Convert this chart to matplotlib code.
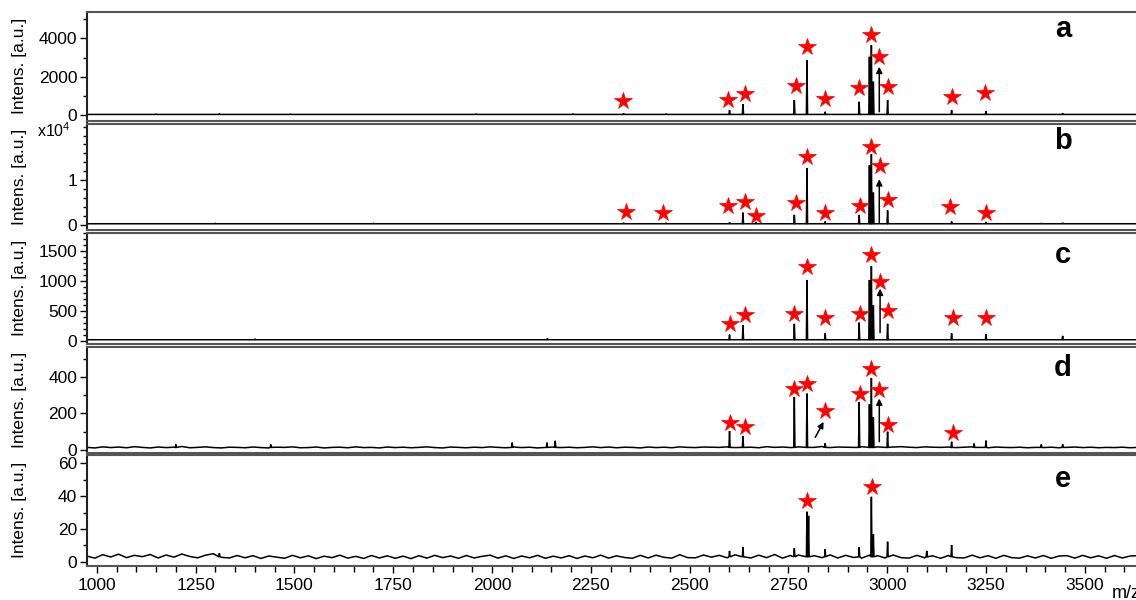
import numpy as np
import matplotlib.pyplot as plt
from matplotlib.ticker import MultipleLocator, NullLocator

plt.rcParams['font.family'] = ['Liberation Sans', 'DejaVu Sans']
plt.rcParams['mathtext.fontset'] = 'custom'
plt.rcParams['mathtext.rm'] = 'Liberation Sans'

# --- spectra: peak m/z and intensities for each sample ---
a_mz = [1150, 1310, 1490, 1960, 2205, 2333, 2440, 2601, 2635, 2765, 2797, 2843,
        2929, 2955, 2960, 2965, 3001, 3163, 3250, 3444]
a_int = [50, 60, 50, 70, 60, 80, 70, 260, 560, 780, 2870, 170,
         690, 3040, 3650, 1740, 780, 260, 210, 90]
a_stars_mz = [2332, 2598, 2639, 2769, 2798, 2843, 2929, 2959, 2980, 3003, 3164, 3248]
a_stars_y = [731, 783, 1080, 1514, 3534, 835, 1425, 4176, 3012, 1446, 955, 1164]

# panel b is in units of 1e4
b_mz = [1300, 1700, 2333, 2440, 2601, 2635, 2668, 2765, 2797, 2843,
        2929, 2955, 2960, 2965, 3001, 3163, 3250, 3390, 3444]
b_int = [0.03, 0.03, 0.04, 0.04, 0.05, 0.27, 0.06, 0.22, 1.27, 0.07,
         0.22, 1.33, 1.58, 0.72, 0.32, 0.07, 0.06, 0.03, 0.04]
b_stars_mz = [2340, 2433, 2598, 2639, 2668, 2769, 2798, 2843, 2930, 2959, 2982, 3003, 3160, 3250]
b_stars_y = [0.28, 0.26, 0.42, 0.51, 0.20, 0.49, 1.52, 0.27, 0.42, 1.75, 1.31, 0.55, 0.39, 0.27]

c_mz = [1400, 2140, 2601, 2635, 2765, 2797, 2843, 2929, 2955, 2960, 2965,
        3001, 3163, 3250, 3444]
c_int = [40, 45, 110, 270, 290, 1020, 130, 310, 1020, 1250, 600,
         290, 130, 120, 90]
c_stars_mz = [2602, 2639, 2765, 2798, 2843, 2930, 2959, 2982, 3003, 3166, 3250]
c_stars_y = [292, 435, 446, 1228, 391, 457, 1436, 985, 502, 391, 380]

d_mz = [1200, 1440, 2051, 2139, 2160, 2601, 2635, 2765, 2797, 2843,
        2929, 2955, 2960, 2965, 3001, 3163, 3220, 3250, 3390, 3444]
d_int = [30, 30, 40, 40, 50, 104, 76, 291, 309, 36,
         263, 250, 394, 178, 100, 45, 35, 51, 30, 31]
d_stars_mz = [2602, 2640, 2765, 2798, 2843, 2930, 2959, 2980, 3002, 3166]
d_stars_y = [145, 127, 336, 360, 214, 309, 445, 327, 136, 94]
d_noise = [14, 11, 17, 13, 16, 12, 18, 14, 11, 16, 13, 15, 19, 12, 14, 17, 13, 11, 15, 14,
           12, 16, 13, 11, 15, 14, 17, 12, 13, 16, 11, 14, 15, 12, 17, 13, 14, 11, 16, 13,
           15, 12, 14, 17, 13, 11, 16, 14, 12, 15, 13, 17, 14, 12, 16, 13, 15, 11, 14, 16,
           13, 15, 12, 14, 17, 13, 16, 12, 15, 14, 11, 16, 13, 15, 12, 17, 14, 13, 16, 15,
           14, 17, 13, 16, 15, 12, 18, 14, 16, 13, 17, 15, 14, 19, 13, 16, 15, 14, 18, 16,
           17, 14, 16, 18, 15, 13, 17, 15, 14, 16, 13, 15, 17, 14, 12, 16, 14, 13, 15, 12,
           14, 13, 15, 12, 14, 16, 13, 15, 12, 14, 13, 15, 12, 14]

e_mz = [1310, 2601, 2635, 2765, 2797, 2801, 2843, 2929, 2960, 2965, 3001, 3100, 3163]
e_int = [5.2, 6.6, 8.8, 8.2, 30.5, 28.0, 7.6, 8.8, 39.6, 16.9, 12.2, 6.6, 10.2]
e_stars_mz = [2798, 2961]
e_stars_y = [37.2, 45.4]
e_noise = [3.4, 2.2, 4.3, 2.9, 4.6, 2.5, 3.9, 3.1, 4.4, 2.3, 4.1, 2.8, 4.7, 3.2, 2.4, 4.0, 4.9, 2.7, 2.3, 3.8,
           2.4, 3.7, 2.0, 3.5, 2.8, 2.1, 3.9, 2.4, 3.6, 1.9, 3.4, 2.5, 4.0, 2.2, 3.3, 2.0, 3.8, 2.3, 3.6, 2.1,
           3.4, 1.9, 3.7, 2.2, 3.9, 2.5, 3.5, 2.1, 3.8, 2.3, 3.3, 4.0, 2.2, 3.6, 2.0, 3.5, 2.4, 3.9, 2.1, 3.4,
           2.3, 3.7, 2.0, 3.5, 2.4, 4.0, 2.2, 3.6, 2.6, 2.1, 3.9, 2.3, 4.0, 2.7, 2.2, 4.3, 2.5, 2.4, 4.1, 2.8,
           3.9, 2.4, 4.2, 2.6, 2.3, 4.0, 2.5, 4.4, 2.2, 3.8, 4.1, 2.4, 3.7, 2.5, 4.2, 2.3, 3.9, 2.6, 2.2, 4.0,
           3.7, 2.3, 4.1, 2.5, 2.2, 3.9, 2.4, 3.6, 2.1, 3.8, 2.5, 2.3, 4.0, 2.4, 3.7, 2.1, 3.9, 2.5, 2.2, 3.6,
           2.3, 3.8, 2.1, 3.5, 3.7, 2.2, 3.9, 2.4, 3.6, 2.1, 3.8, 2.3, 3.5, 3.7]

MZ_MIN, MZ_MAX = 975, 3660
NOISE_START, NOISE_STEP = 975, 20


def build_trace(mz, inten, base, noise=None):
    """Turn a peak list into a stick-like spectrum trace."""
    if noise is None:
        xs = np.array([MZ_MIN, MZ_MAX], dtype=float)
        ys = np.array([base, base], dtype=float)
    else:
        xs = NOISE_START + NOISE_STEP * np.arange(len(noise), dtype=float)
        ys = np.array(noise, dtype=float)
    # drop baseline points that would cut into a peak
    keep = np.ones(len(xs), bool)
    for m in mz:
        keep &= np.abs(xs - m) > 3
    xs, ys = list(xs[keep]), list(ys[keep])
    for m, h in zip(mz, inten):
        xs += [m - 1.5, m, m + 1.5]
        ys += [base, h, base]
    order = np.argsort(xs, kind='stable')
    return np.array(xs)[order], np.array(ys)[order]


panels = [
    dict(mz=a_mz, it=a_int, base=30, noise=None, sx=a_stars_mz, sy=a_stars_y,
         ylim=(-313, 5394), major=2000, minor=1000, letter='a', ly=0.84,
         top=11.7, bottom=121, arrows=[((2980, 170), (2980, 2520))]),
    dict(mz=b_mz, it=b_int, base=0.02, noise=None, sx=b_stars_mz, sy=b_stars_y,
         ylim=(-0.12, 2.27), major=1, minor=0.2, letter='b', ly=0.84,
         top=123.5, bottom=230, arrows=[((2980, 0.05), (2980, 1.02))]),
    dict(mz=c_mz, it=c_int, base=25, noise=None, sx=c_stars_mz, sy=c_stars_y,
         ylim=(-46, 1810), major=500, minor=100, letter='c', ly=0.80,
         top=232.5, bottom=344, arrows=[((2982, 144), (2982, 875))]),
    dict(mz=d_mz, it=d_int, base=14, noise=d_noise, sx=d_stars_mz, sy=d_stars_y,
         ylim=(-14, 567), major=200, minor=100, letter='d', ly=0.80,
         top=346.5, bottom=452.5,
         arrows=[((2980, 45), (2980, 282)), ((2818, 69), (2839, 154))]),
    dict(mz=e_mz, it=e_int, base=3, noise=e_noise, sx=e_stars_mz, sy=e_stars_y,
         ylim=(-2.6, 65.4), major=20, minor=10, letter='e', ly=0.78,
         top=454.5, bottom=566, arrows=[]),
]

W, H = 1136, 600
fig = plt.figure(figsize=(W / 100, H / 100), dpi=100)
left = 87 / W
width = (1148 - 87) / W
label_font = ['Liberation Sans Narrow', 'Liberation Sans', 'DejaVu Sans']

axes = []
for p in panels:
    ax = fig.add_axes([left, 1 - p['bottom'] / H, width, (p['bottom'] - p['top']) / H])
    x, y = build_trace(p['mz'], p['it'], p['base'], p['noise'])
    ax.plot(x, y, color='black', lw=1.1, solid_joinstyle='miter')
    ax.plot(p['sx'], p['sy'], ls='none', marker='*', ms=13, color='red', mec='red', mew=0.5)
    for start, end in p['arrows']:
        ax.annotate('', xy=end, xytext=start,
                    arrowprops=dict(arrowstyle='-|>', color='black', lw=1.1,
                                    mutation_scale=9, shrinkA=0, shrinkB=0))
    ax.set_xlim(MZ_MIN, MZ_MAX)
    ax.set_ylim(*p['ylim'])
    ax.yaxis.set_major_locator(MultipleLocator(p['major']))
    ax.yaxis.set_minor_locator(MultipleLocator(p['minor']))
    ax.tick_params(axis='y', which='major', direction='out', length=5, width=1,
                   labelsize=12.5, pad=2)
    ax.tick_params(axis='y', which='minor', direction='out', length=3, width=1)
    for sp in ax.spines.values():
        sp.set_color('#555555')
        sp.set_linewidth(1.5)
    ax.spines['left'].set_color('#222222')
    ax.text(3445, p['ly'], p['letter'], transform=ax.get_xaxis_transform(),
            ha='center', va='center', fontsize=21, fontweight='bold')
    fig.text(20 / W, 1 - (p['top'] + p['bottom']) / 2 / H, 'Intens. [a.u.]',
             rotation=90, ha='center', va='center', fontsize=12.5, family=label_font)
    axes.append(ax)

# only the lowest panel carries the m/z axis
for ax in axes[:-1]:
    ax.tick_params(axis='x', which='both', bottom=False, labelbottom=False)
    ax.xaxis.set_major_locator(NullLocator())
    ax.xaxis.set_minor_locator(NullLocator())

ax_e = axes[-1]
ax_e.xaxis.set_major_locator(MultipleLocator(250))
ax_e.xaxis.set_minor_locator(MultipleLocator(50))
ax_e.tick_params(axis='x', which='major', direction='out', length=5, width=1,
                 labelsize=12.5, pad=4)
ax_e.tick_params(axis='x', which='minor', direction='out', length=4, width=1)

# hide the "2" under the exponent on panel b
axes[1].set_yticks([0, 1])
axes[1].yaxis.set_minor_locator(MultipleLocator(0.2))
fig.text(37 / W, 1 - 131 / H, r'x10$^4$', ha='left', va='center', fontsize=11.5)

fig.text(1112 / W, 1 - 593 / H, 'm/z', ha='left', va='center', fontsize=13)

fig.savefig('out.png', dpi=100)
